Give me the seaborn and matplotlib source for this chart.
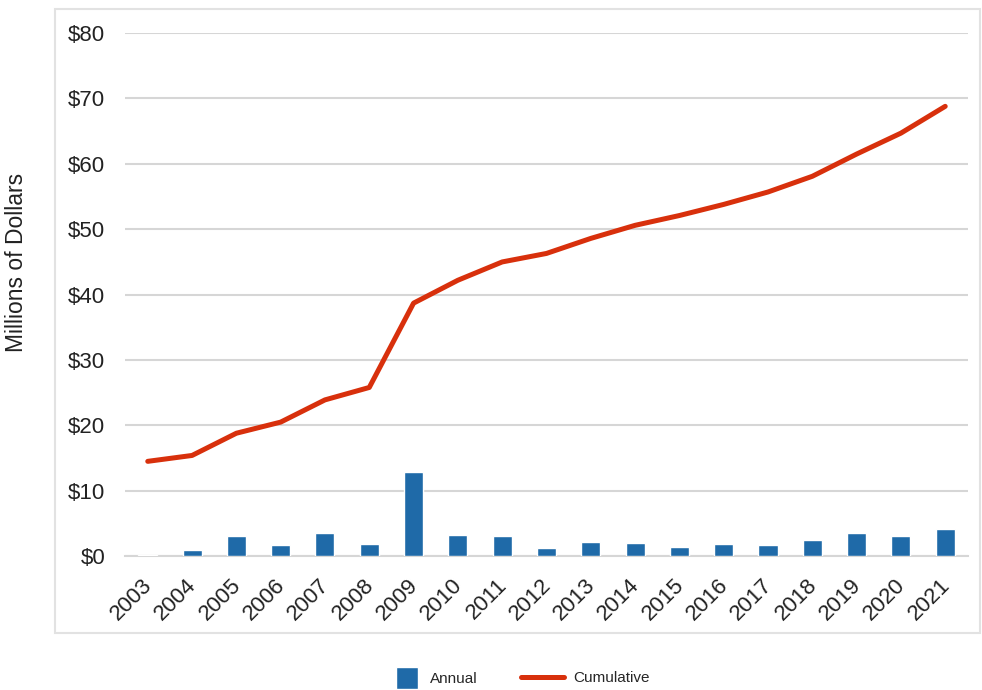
import numpy as np
import pandas as pd
import matplotlib
matplotlib.use("Agg")
import matplotlib.pyplot as plt
import matplotlib.transforms as mtransforms
import seaborn as sns
from matplotlib.patches import Patch, Rectangle
from matplotlib.lines import Line2D
from matplotlib.ticker import FuncFormatter

# 数据（从图上读取的估计值，单位：百万美元）
years = [str(y) for y in range(2003, 2022)]
annual = [0.2, 0.9, 3.1, 1.7, 3.6, 1.9, 12.8, 3.3, 3.1, 1.3,
          2.2, 2.0, 1.4, 1.9, 1.7, 2.5, 3.5, 3.1, 4.2]
cumulative = [14.5, 15.4, 18.8, 20.5, 23.9, 25.8, 38.7, 42.2, 45.0, 46.3,
              48.6, 50.6, 52.1, 53.8, 55.7, 58.1, 61.5, 64.7, 68.8]
y_ticks = [0, 10, 20, 30, 40, 50, 60, 70, 80]

bar_color = "#1f6aa8"
line_color = "#d8300c"
grid_color = "#d6d6d6"

df = pd.DataFrame({"year": years, "annual": annual, "cumulative": cumulative})
df["pos"] = np.arange(len(df))

sns.set_style("white")
plt.rcParams["font.family"] = ["Liberation Sans", "DejaVu Sans"]

fig = plt.figure(figsize=(9.82, 6.9), dpi=100)
ax = fig.add_axes([0.127, 0.194, 0.859, 0.758])

# 外框
fig.patches.append(Rectangle((0.056, 0.083), 0.942, 0.904, transform=fig.transFigure,
                             fill=False, edgecolor="#e2e2e2", linewidth=1.5))

# 柱状图：年度
sns.barplot(data=df, x="year", y="annual", color=bar_color, width=0.43,
            saturation=1, ax=ax, zorder=3)
# 折线：累计
sns.lineplot(data=df, x="pos", y="cumulative", color=line_color, linewidth=3.6,
             ax=ax, zorder=4)

ax.set_ylim(0, 80)
ax.set_xlim(-0.52, len(years) - 0.48)
ax.set_yticks(y_ticks)
ax.yaxis.set_major_formatter(FuncFormatter(lambda v, p: f"${v:.0f}"))
ax.set_xticks(df["pos"])
ax.set_xticklabels(years, rotation=45, ha="right", rotation_mode="anchor")
ax.tick_params(axis="y", length=0, pad=14, labelsize=16, labelcolor="#222222")
ax.tick_params(axis="x", length=0, pad=4, labelsize=16, labelcolor="#222222")
# 年份标签稍微向左下移动
shift = mtransforms.ScaledTranslation(-6 / 100, -13 / 100, fig.dpi_scale_trans)
for lbl in ax.get_xticklabels():
    lbl.set_transform(lbl.get_transform() + shift)

ax.set_xlabel("")
ax.set_ylabel("Millions of Dollars", fontsize=16.5, color="#222222")
ax.yaxis.set_label_coords(-0.115, 0.562)

ax.grid(axis="y", color=grid_color, linewidth=1.5, zorder=0)
ax.grid(axis="x", visible=False)
ax.set_axisbelow(True)
for s in ["top", "right", "left"]:
    ax.spines[s].set_visible(False)
ax.spines["bottom"].set_color(grid_color)
ax.spines["bottom"].set_linewidth(1.5)

# 图例
fig.legend(handles=[Patch(facecolor=bar_color, label="Annual")],
           loc="center", bbox_to_anchor=(0.445, 0.017), frameon=False,
           fontsize=11, handlelength=1.4, handleheight=1.8, handletextpad=0.8)
fig.legend(handles=[Line2D([], [], color=line_color, linewidth=3.6, label="Cumulative")],
           loc="center", bbox_to_anchor=(0.596, 0.017), frameon=False,
           fontsize=11, handlelength=2.8, handletextpad=0.6)

fig.savefig("out.png", dpi=100)
